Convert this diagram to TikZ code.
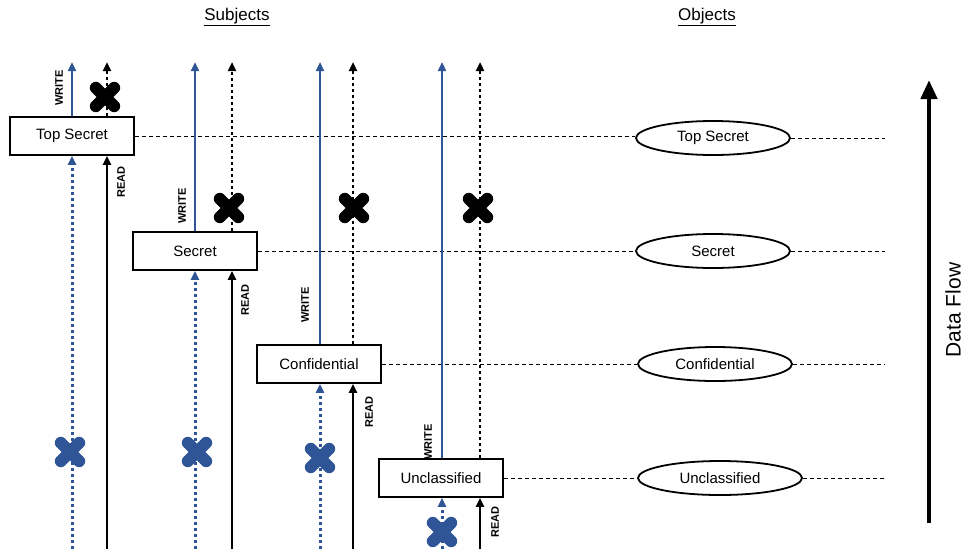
\documentclass[tikz,border=0pt]{standalone}
\usepackage{fontspec}
\setmainfont{Liberation Sans}
\usetikzlibrary{arrows.meta,shapes.geometric}
\definecolor{wblue}{RGB}{47,85,151}
\begin{document}
\begin{tikzpicture}[x=1pt,y=-1pt,
  level/.style={draw, line width=1.8pt, fill=white, minimum width=124pt, minimum height=38pt, inner sep=0pt, font=\fontsize{15}{18}\selectfont},
  obj/.style={draw, ellipse, line width=1.8pt, minimum width=154pt, minimum height=34pt, inner sep=0pt, font=\fontsize{15}{18}\selectfont},
  guide/.style={dash pattern=on 4pt off 3pt, line width=0.9pt},
  tip/.style={-{Triangle[width=8pt,length=9pt]}},
  wr/.style={tip, wblue, line width=2.8pt},
  wrno/.style={tip, wblue, line width=3pt, dash pattern=on 3pt off 3pt},
  rd/.style={tip, black, line width=2.8pt},
  rdno/.style={tip, black, line width=2.8pt, dash pattern=on 3pt off 3pt},
  lbl/.style={rotate=90, font=\bfseries\fontsize{11}{13}\selectfont, inner sep=0pt},
  xmark/.style={minimum size=18pt, inner sep=0pt},
  xline/.style={line width=12pt, line cap=round},
  head/.style={font=\fontsize{17}{20}\selectfont}
]
\useasboundingbox (0,0) rectangle (966,552);

% column headings
\node[head] (subj) at (237,17) {\underline{Subjects}};
\node[head] (objs) at (707,17) {\underline{Objects}};

% subject levels
\node[level] (ts) at (72,136) {Top Secret};
\node[level] (s)  at (195,251) {Secret};
\node[level] (c)  at (319,364) {Confidential};
\node[level] (u)  at (441,478) {Unclassified};

% object levels
\node[obj] (ots) at (713,138) {Top Secret};
\node[obj] (os)  at (713,251) {Secret};
\node[obj] (oc)  at (715,364) {Confidential};
\node[obj, minimum width=164pt] (ou) at (720,478) {Unclassified};

% guide line ends
\coordinate (ets) at (885,138);
\coordinate (es)  at (885,251);
\coordinate (ec)  at (885,364);
\coordinate (eu)  at (885,478);

\draw[guide] (ts.east) -- (ts.east -| ots.west);
\draw[guide] (ots.east) -- (ets);
\draw[guide] (s.east) -- (s.east -| os.west);
\draw[guide] (os.east) -- (es);
\draw[guide] (c.east) -- (c.east -| oc.west);
\draw[guide] (oc.east) -- (ec);
\draw[guide] (u.east) -- (u.east -| ou.west);
\draw[guide] (ou.east) -- (eu);

% column end points: W = write (blue), R = read (black); t = top, b = bottom
\coordinate (tsWt) at (72,62);  \coordinate (tsRt) at (107,62);
\coordinate (tsWb) at (72,549); \coordinate (tsRb) at (107,549);
\coordinate (sWt) at (195,62);  \coordinate (sRt) at (232,62);
\coordinate (sWb) at (195,549); \coordinate (sRb) at (232,549);
\coordinate (cWt) at (320,62);  \coordinate (cRt) at (353,62);
\coordinate (cWb) at (320,549); \coordinate (cRb) at (353,549);
\coordinate (uWt) at (442,62);  \coordinate (uRt) at (480,62);
\coordinate (uWb) at (442,549); \coordinate (uRb) at (480,549);

% Top Secret
\draw[wr]   (ts.north -| tsWt) -- (tsWt);
\draw[rdno] (ts.north -| tsRt) -- (tsRt);
\draw[wrno] (tsWb) -- (ts.south -| tsWb);
\draw[rd]   (tsRb) -- (ts.south -| tsRb);
% Secret
\draw[wr]   (s.north -| sWt) -- (sWt);
\draw[rdno] (s.north -| sRt) -- (sRt);
\draw[wrno] (sWb) -- (s.south -| sWb);
\draw[rd]   (sRb) -- (s.south -| sRb);
% Confidential
\draw[wr]   (c.north -| cWt) -- (cWt);
\draw[rdno] (c.north -| cRt) -- (cRt);
\draw[wrno] (cWb) -- (c.south -| cWb);
\draw[rd]   (cRb) -- (c.south -| cRb);
% Unclassified
\draw[wr]   (u.north -| uWt) -- (uWt);
\draw[rdno] (u.north -| uRt) -- (uRt);
\draw[wrno] (uWb) -- (u.south -| uWb);
\draw[rd]   (uRb) -- (u.south -| uRb);

% denied flows
\node[xmark] (xts) at (105,97) {};
\node[xmark] (xs)  at (229,208) {};
\node[xmark] (xc)  at (354,208) {};
\node[xmark] (xu)  at (478,208) {};
\node[xmark] (bts) at (70,452) {};
\node[xmark] (bs)  at (197,452) {};
\node[xmark] (bc)  at (320,458) {};
\node[xmark] (bu)  at (442,532) {};
\foreach \m in {xts,xs,xc,xu}
  \draw[xline, black] (\m.north west) -- (\m.south east) (\m.north east) -- (\m.south west);
\foreach \m in {bts,bs,bc,bu}
  \draw[xline, wblue] (\m.north west) -- (\m.south east) (\m.north east) -- (\m.south west);

% access labels
\node[lbl] (lwts) at (59,88)   {WRITE};
\node[lbl] (lws)  at (182,206) {WRITE};
\node[lbl] (lwc)  at (305,305) {WRITE};
\node[lbl] (lwu)  at (428,442) {WRITE};
\node[lbl] (lrts) at (121,182) {READ};
\node[lbl] (lrs)  at (245,300) {READ};
\node[lbl] (lrc)  at (369,412) {READ};
\node[lbl] (lru)  at (495,522) {READ};

% data flow direction
\coordinate (dfb) at (929,523);
\coordinate (dft) at (929,80);
\draw[line width=4.5pt, -{Triangle[width=16pt,length=19pt]}] (dfb) -- (dft);
\node[rotate=90, font=\fontsize{21}{25}\selectfont] (dfl) at (953,310) {Data Flow};
\end{tikzpicture}
\end{document}
